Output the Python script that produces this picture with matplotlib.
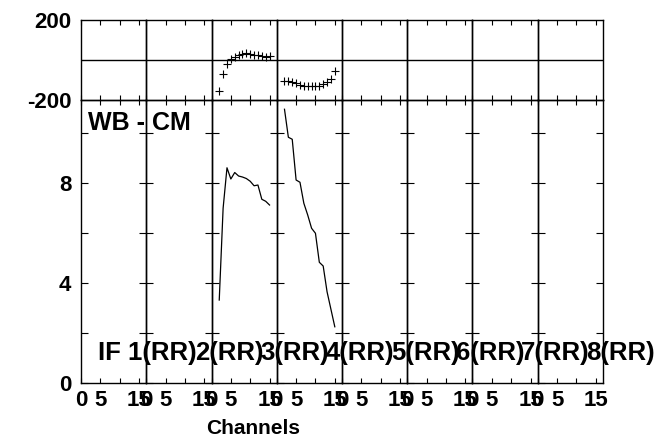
import numpy as np
import matplotlib.pyplot as plt

plt.rcParams['font.family'] = ['Liberation Sans', 'DejaVu Sans']
plt.rcParams['font.weight'] = 'bold'

# channels that carry data (IF 3 and IF 4 only)
chan = [2, 3, 4, 5, 6, 7, 8, 9, 10, 11, 12, 13, 14, 15]
phase_if3 = [-157, -70, -20, 4, 17, 26, 32, 34, 32, 27, 23, 20, 17, 18]
phase_if4 = [-107, -104, -110, -117, -125, -128, -130, -130, -130, -130, -120, -108, -95, -53]
amp_if3 = [3.33, 7.0, 8.62, 8.17, 8.43, 8.29, 8.25, 8.19, 8.08, 7.9, 7.93, 7.36, 7.28, 7.13]
amp_if4 = [10.96, 9.84, 9.76, 8.13, 8.04, 7.2, 6.73, 6.2, 6.0, 4.84, 4.69, 3.66, 2.96, 2.26]

if_labels = ['IF 1(RR)', '2(RR)', '3(RR)', '4(RR)', '5(RR)', '6(RR)', '7(RR)', '8(RR)']
x_ticks = [0, 5, 10, 15]
x_ticklabels = ['0', '5', '', '15']
amp_ticks = [0, 2, 4, 6, 8, 10]
amp_ticklabels = ['0', '', '4', '', '8', '']
phase_ticks = [-200, 200]

data = {2: (phase_if3, amp_if3), 3: (phase_if4, amp_if4)}

W, H = 656, 442
fig, axes = plt.subplots(
    2, 8, figsize=(W / 100, H / 100), dpi=100,
    gridspec_kw=dict(height_ratios=[80, 283.3], wspace=0, hspace=0,
                     left=81 / W, right=603 / W, top=1 - 20 / H, bottom=1 - 383.3 / H))

xmax = 16.86
for i in range(8):
    top, bot = axes[0, i], axes[1, i]
    for ax in (top, bot):
        ax.set_xlim(0, xmax)
        ax.patch.set_visible(False)
        for s in ax.spines.values():
            s.set_linewidth(1.0)
        ax.set_xticks(x_ticks)
        ax.tick_params(axis='x', direction='in', top=True, bottom=True,
                       length=3.5, width=0.8)

    # phase panel
    top.set_ylim(-200, 200)
    top.axhline(0, color='black', lw=1.0)
    top.set_yticks(phase_ticks)
    top.tick_params(axis='x', labelbottom=False)
    top.tick_params(axis='y', length=0, pad=7, labelsize=16, labelleft=(i == 0))
    if i == 0:
        top.set_yticklabels(['-200', '200'])

    # amplitude panel
    bot.set_ylim(0, 11.33)
    bot.set_yticks(amp_ticks)
    bot.tick_params(axis='y', direction='in', left=True, right=True,
                    length=5, width=0.8, pad=7, labelsize=16, labelleft=(i == 0))
    if i == 0:
        bot.set_yticklabels(amp_ticklabels)
    bot.set_xticklabels(x_ticklabels)
    bot.tick_params(axis='x', labelsize=16, pad=5)

    if i in data:
        ph, am = data[i]
        top.plot(chan, ph, linestyle='none', marker='+', color='black',
                 markersize=6, markeredgewidth=0.8, clip_on=False)
        bot.plot(chan, am, color='black', lw=0.9)

    lx = 4.4 if i == 0 else 12.6
    bot.text(lx, 0.93, if_labels[i], fontsize=18.5, fontweight='bold',
             ha='left', va='baseline')

fig.text(88 / W, 1 - 130 / H, 'WB - CM', fontsize=18, fontweight='bold',
         ha='left', va='baseline')
fig.text(253 / W, 1 - 428 / H, 'Channels', fontsize=15, fontweight='bold',
         ha='center', va='center')

fig.savefig('out.png', dpi=100, facecolor='white')
